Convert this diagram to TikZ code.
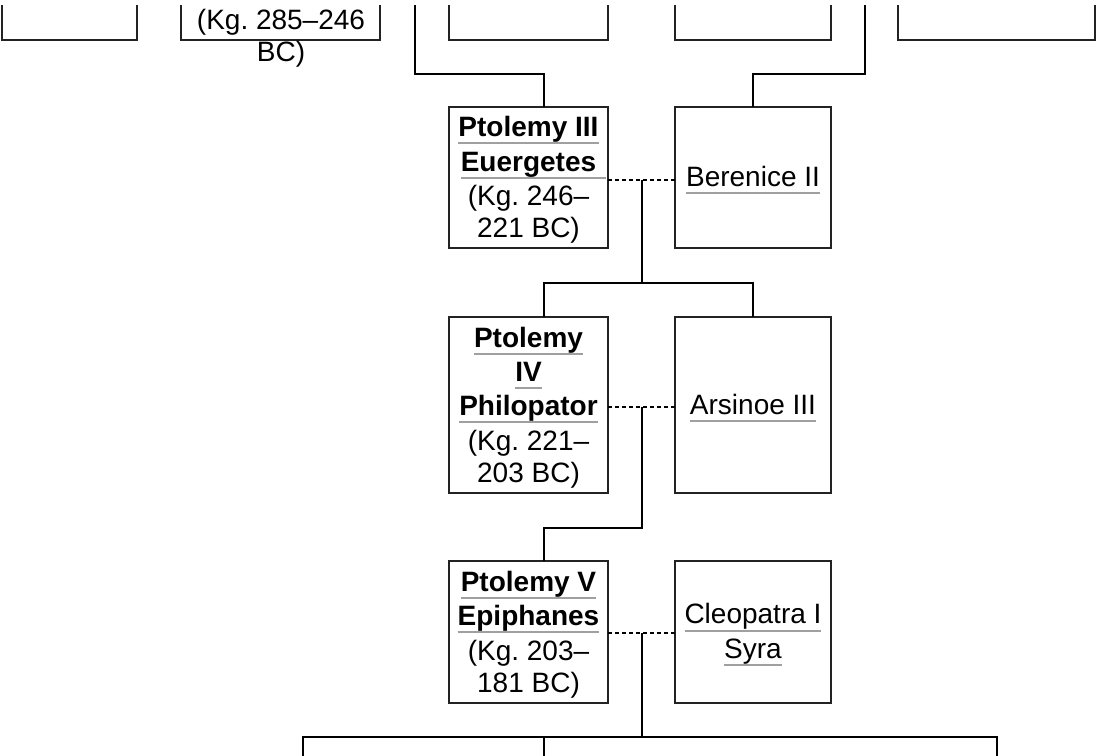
\documentclass[tikz,border=0pt]{standalone}
\usepackage{fontspec}
\setmainfont{Liberation Sans}
\frenchspacing
\definecolor{linkgray}{RGB}{160,160,160}
\definecolor{boxline}{RGB}{35,35,35}
\newcommand\ulk[2][0pt]{\setbox0\hbox{#2}\rlap{\textcolor{linkgray}{\rule[-7.6pt]{\dimexpr\wd0+#1\relax}{2pt}}}\box0}
\newcommand\lstrut{\rule[-6.4pt]{0pt}{32.2pt}}
\tikzset{
  box/.style={draw=boxline, line width=2pt, inner sep=0pt, outer sep=0pt,
    font=\fontsize{28}{32.2}\selectfont\frenchspacing, align=center},
  txt/.style={inner sep=0pt, outer sep=0pt, font=\fontsize{28}{32.2}\selectfont\frenchspacing, align=center},
  cn/.style={draw=black, line width=2pt},
  marr/.style={draw=black, line width=1.8pt, dash pattern=on 4pt off 3pt},
}
\begin{document}
\begin{tikzpicture}[x=1pt,y=-1pt]
\useasboundingbox (0,0) rectangle (1097,755);
\begin{scope}
\clip (0,5) rectangle (1097,755);
% partial boxes at the top
\node[box, minimum width=135pt, minimum height=120pt, anchor=south west] (ta) at (2,40) {};
\node[box, minimum width=199pt, minimum height=120pt, anchor=south west] (tb) at (181,40) {};
\node[txt] (tbt) at (281,35.7) {\lstrut(Kg. 285–246\\\lstrut BC)};
\node[box, minimum width=159pt, minimum height=120pt, anchor=south west] (tc) at (449,40) {};
\node[box, minimum width=156pt, minimum height=120pt, anchor=south west] (td) at (675,40) {};
\node[box, minimum width=197pt, minimum height=120pt, anchor=south west] (te) at (898,40) {};

% generation boxes
\node[box, minimum width=159pt, minimum height=141pt] (p3) at (528.5,177.5)
  {\lstrut\ulk{\bfseries Ptolemy III}\\\lstrut\ulk[10pt]{\bfseries Euergetes}\\\lstrut(Kg. 246–\\\lstrut 221 BC)};
\node[box, minimum width=156pt, minimum height=141pt] (b2) at (753,177.5)
  {\lstrut\ulk{Berenice II}};
\node[box, minimum width=159pt, minimum height=176pt] (p4) at (528.5,405)
  {\lstrut\ulk{\bfseries Ptolemy}\\\lstrut\ulk{\bfseries IV}\\\lstrut\ulk{\bfseries Philopator}\\\lstrut(Kg. 221–\\\lstrut 203 BC)};
\node[box, minimum width=156pt, minimum height=176pt] (a3) at (753,405)
  {\lstrut\ulk{Arsinoe III}};
\node[box, minimum width=159pt, minimum height=142pt] (p5) at (528.5,632)
  {\lstrut\ulk{\bfseries Ptolemy V}\\\lstrut\ulk{\bfseries Epiphanes}\\\lstrut(Kg. 203–\\\lstrut 181 BC)};
\node[box, minimum width=156pt, minimum height=142pt] (c1) at (753,632)
  {\lstrut\ulk{Cleopatra I}\\\lstrut\ulk{Syra}};

% connectors from above
\coordinate (tl) at (415,-10);
\coordinate (tr) at (865,-10);
\coordinate (k1) at (544,74);
\coordinate (k2) at (753,74);
\draw[cn] (tl) |- (k1) -- (k1 |- p3.north);
\draw[cn] (tr) |- (k2) -- (k2 |- b2.north);

% marriage 1
\coordinate (m1) at (642,180);
\draw[marr] (p3.east |- m1) -- (b2.west |- m1);
\coordinate (h1) at (642,283);
\coordinate (h1l) at (544,283);
\coordinate (h1r) at (753,283);
\draw[cn] (m1) -- (h1);
\draw[cn] (h1l |- p4.north) -- (h1l) -- (h1r) -- (h1r |- a3.north);

% marriage 2
\coordinate (m2) at (642,407);
\draw[marr] (p4.east |- m2) -- (a3.west |- m2);
\coordinate (k3) at (544,528);
\draw[cn] (m2) |- (k3) -- (k3 |- p5.north);

% marriage 3
\coordinate (m3) at (642,633);
\draw[marr] (p5.east |- m3) -- (c1.west |- m3);
\coordinate (h3) at (642,737);
\draw[cn] (m3) -- (h3);
\coordinate (d1) at (303,770);
\coordinate (d2) at (544,770);
\coordinate (d3) at (997,770);
\draw[cn] (d1) -- (d1 |- h3) -- (d3 |- h3) -- (d3);
\draw[cn] (d2 |- h3) -- (d2);
\end{scope}
\end{tikzpicture}
\end{document}
